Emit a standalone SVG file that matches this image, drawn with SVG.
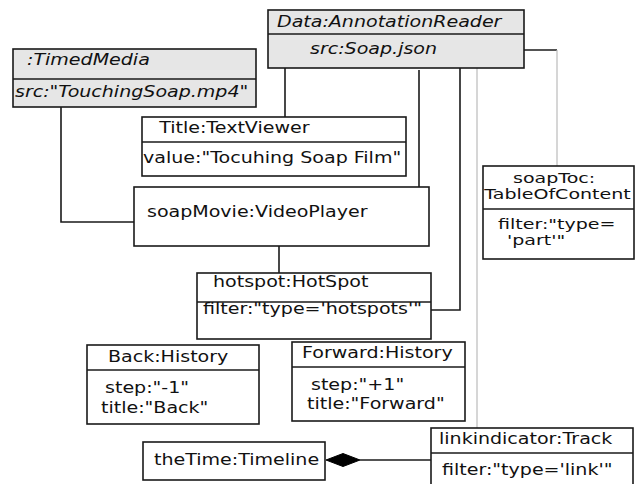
<svg xmlns="http://www.w3.org/2000/svg" width="635" height="484" viewBox="0 0 635 484">
  <style>
    .box { fill: #ffffff; stroke: #1a1a1a; stroke-width: 1.6; }
    .box.grey { fill: #e6e6e6; }
    .div { stroke: #1a1a1a; stroke-width: 1.6; }
    .t { font-family: "DejaVu Sans", "Liberation Sans", sans-serif; font-size: 16px; fill: #111;
         transform-box: fill-box; transform-origin: 0 0; transform: scaleX(1.19); }
    .t.tight { font-size: 14.5px; transform: scaleX(1.313); }
    .it { font-style: italic; }
    .link { fill: none; stroke: #1a1a1a; stroke-width: 1.6; }
    .link.soft { stroke: #bbbbbb; stroke-width: 1.2; }
  </style>

  <!-- connectors -->
  <g id="connectors">
    <polyline class="link" points="61,107 61,222 134,222"/>
    <line class="link" x1="285" y1="68" x2="285" y2="117"/>
    <line class="link" x1="419" y1="70" x2="419" y2="187"/>
    <polyline class="link" points="460,68 460,310 431,310"/>
    <line class="link soft" x1="477" y1="68" x2="477" y2="428"/>
    <line class="link" x1="524" y1="50" x2="557" y2="50"/>
    <line class="link soft" x1="557" y1="50" x2="557" y2="166"/>
    <line class="link" x1="279" y1="246" x2="279" y2="273"/>
    <line class="link" x1="360" y1="460" x2="431" y2="460"/>
    <polygon points="326,460 343,453.5 360,460 343,466.5" fill="#000" stroke="#000" stroke-width="1"/>
  </g>

  <g id="timedMedia">
    <rect class="box grey" x="13" y="49" width="243" height="58"/>
    <line class="div" x1="13" y1="79" x2="256" y2="79"/>
    <text class="t it" x="27" y="65">:TimedMedia</text>
    <text class="t it" x="15" y="97">src:"TouchingSoap.mp4"</text>
  </g>

  <g id="annotationReader">
    <rect class="box grey" x="268" y="10" width="256" height="58"/>
    <line class="div" x1="268" y1="34" x2="524" y2="34"/>
    <text class="t it" x="277" y="27">Data:AnnotationReader</text>
    <text class="t it" x="310" y="54">src:Soap.json</text>
  </g>

  <g id="textViewer">
    <rect class="box" x="142" y="117" width="264" height="59"/>
    <line class="div" x1="142" y1="142" x2="406" y2="142"/>
    <text class="t" x="159" y="133">Title:TextViewer</text>
    <text class="t" x="143" y="163">value:"Tocuhing Soap Film"</text>
  </g>

  <g id="videoPlayer">
    <rect class="box" x="134" y="187" width="295" height="59"/>
    <text class="t" x="147" y="217">soapMovie:VideoPlayer</text>
  </g>

  <g id="tableOfContent">
    <rect class="box" x="483" y="166" width="151" height="93"/>
    <line class="div" x1="483" y1="209" x2="634" y2="209"/>
    <text class="t tight" x="513" y="183">soapToc:</text>
    <text class="t tight" x="484" y="199">TableOfContent</text>
    <text class="t tight" x="498" y="229">filter:"type=</text>
    <text class="t tight" x="507" y="245">'part'"</text>
  </g>

  <g id="hotSpot">
    <rect class="box" x="197" y="273" width="234" height="66"/>
    <line class="div" x1="197" y1="302" x2="431" y2="302"/>
    <text class="t" x="213" y="287">hotspot:HotSpot</text>
    <text class="t" x="203" y="314">filter:"type='hotspots'"</text>
  </g>

  <g id="backHistory">
    <rect class="box" x="87" y="345" width="172" height="79"/>
    <line class="div" x1="87" y1="370" x2="259" y2="370"/>
    <text class="t" x="108" y="362">Back:History</text>
    <text class="t" x="105" y="393">step:"-1"</text>
    <text class="t" x="101" y="413">title:"Back"</text>
  </g>

  <g id="forwardHistory">
    <rect class="box" x="292" y="342" width="173" height="79"/>
    <line class="div" x1="292" y1="367" x2="465" y2="367"/>
    <text class="t" x="302" y="358">Forward:History</text>
    <text class="t" x="311" y="390">step:"+1"</text>
    <text class="t" x="307" y="409">title:"Forward"</text>
  </g>

  <g id="timeline">
    <rect class="box" x="143" y="442" width="182" height="38"/>
    <text class="t" x="154" y="465">theTime:Timeline</text>
  </g>

  <g id="linkTrack">
    <rect class="box" x="431" y="428" width="202" height="62"/>
    <line class="div" x1="431" y1="453" x2="633" y2="453"/>
    <text class="t" x="439" y="444">linkindicator:Track</text>
    <text class="t" x="442" y="475">filter:"type='link'"</text>
  </g>
</svg>
